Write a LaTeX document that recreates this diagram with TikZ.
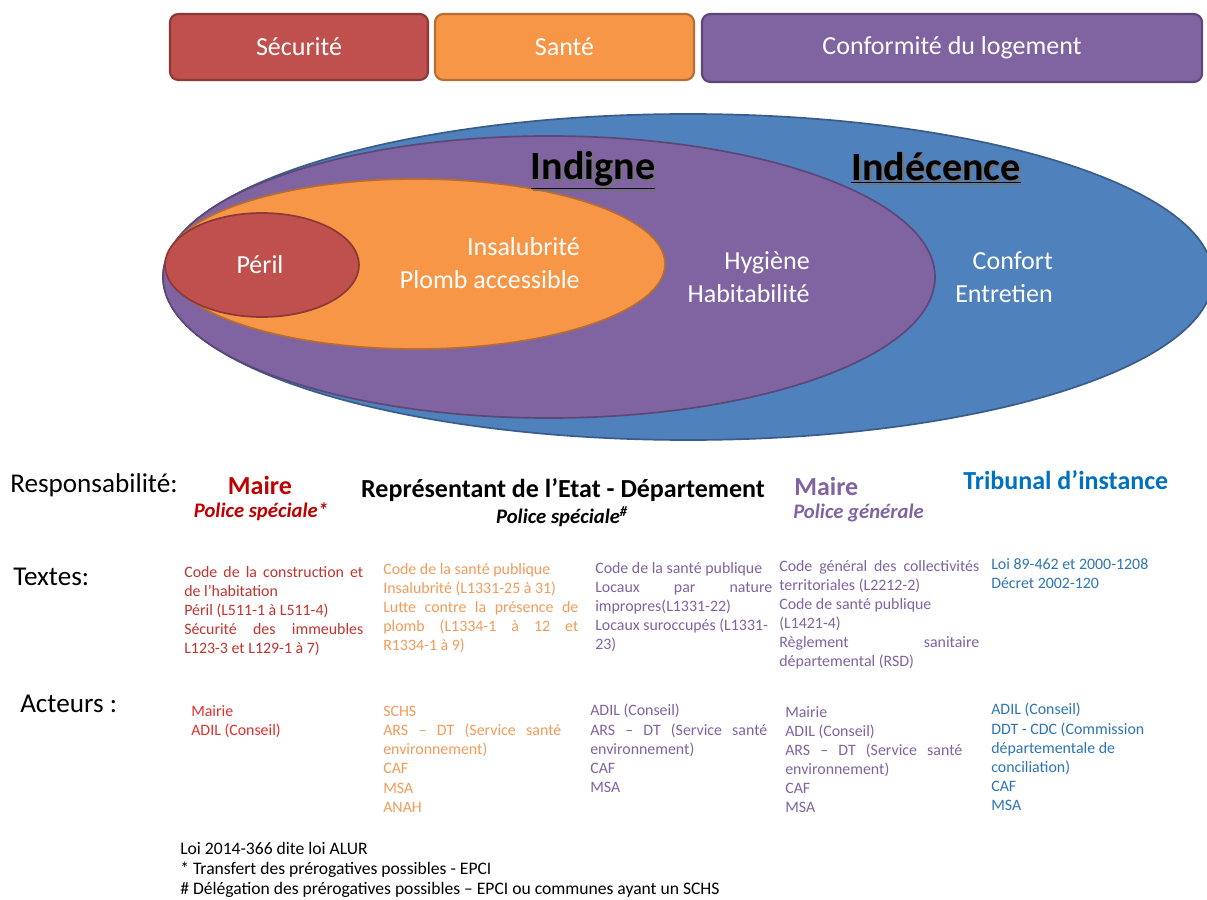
\documentclass[tikz,border=0pt]{standalone}
\usepackage{fontspec}
\setmainfont{Carlito}
\usetikzlibrary{positioning}
\usepackage{xcolor}
\definecolor{secred}{HTML}{C0504D}
\definecolor{secredD}{HTML}{8C3836}
\definecolor{santeor}{HTML}{F79646}
\definecolor{santeorD}{HTML}{B66D31}
\definecolor{confpur}{HTML}{8064A2}
\definecolor{confpurD}{HTML}{5C4776}
\definecolor{indblue}{HTML}{4F81BD}
\definecolor{indblueD}{HTML}{385D8A}
\definecolor{headred}{HTML}{C00000}
\definecolor{txtred}{HTML}{C0362F}
\definecolor{actred}{HTML}{E0312E}
\definecolor{txtor}{HTML}{F39B5A}
\definecolor{txtpur}{HTML}{8064A2}
\definecolor{headblue}{HTML}{0070C0}
\definecolor{txtblue}{HTML}{2E75B6}
\setlength{\parindent}{0pt}
% justified line of a given width
\newcommand{\jl}[2]{\makebox[#1][s]{\spaceskip=0.25em plus 1fil\relax #2}}

\begin{document}
\begin{tikzpicture}[x=0.025cm,y=-0.025cm,
  topbox/.style={draw, line width=1.5pt, rounded corners=6pt, text=white, inner sep=0pt,
                 font=\fontsize{18.5}{22}\selectfont},
  zone/.style={line width=1.2pt},
  zlabel/.style={text=white, align=right, inner sep=0pt, font=\fontsize{18.5}{23.5}\selectfont},
  title/.style={inner sep=0pt, font=\fontsize{28.5}{32}\selectfont\bfseries},
  rowhead/.style={anchor=west, inner sep=0pt, font=\fontsize{19.3}{22}\selectfont},
  chief/.style={inner sep=0pt, font=\fontsize{18.5}{22}\selectfont\bfseries},
  police/.style={inner sep=0pt, font=\fontsize{14.7}{17}\selectfont\bfseries\itshape},
  col/.style={anchor=north west, align=left, inner sep=0pt, font=\fontsize{11.3}{13.6}\selectfont},
  note/.style={anchor=north west, align=left, inner sep=0pt, font=\fontsize{12.5}{14.4}\selectfont}
]
  \useasboundingbox (0,0) rectangle (1207,899);
  \clip (0,0) rectangle (1207,899);
  \fill[white] (0,0) rectangle (1207,899);

  % Categories
  \node[topbox, fill=secred, draw=secredD, minimum width=6.45cm, minimum height=1.65cm] (securite) at (299,47) {Sécurité};
  \node[topbox, fill=santeor, draw=santeorD, minimum width=6.475cm, minimum height=1.65cm] (sante) at (564.5,47) {Santé};
  \node[topbox, fill=confpur, draw=confpurD, minimum width=12.5cm, minimum height=1.7cm] (conformite) at (952,48) {Conformité du logement};

  % Nested zones
  \draw[zone, fill=indblue, draw=indblueD] (688,277) ellipse [x radius=525, y radius=163];
  \draw[zone, fill=confpur, draw=confpurD] (549,277) ellipse [x radius=386, y radius=141];
  \draw[zone, fill=santeor, draw=santeorD] (416,264) ellipse [x radius=249, y radius=85];
  \draw[zone, fill=secred, draw=secredD] (262,265) ellipse [x radius=97, y radius=52];

  % Zone labels
  \node[title, text=black!55] (indigneshadow) at (595,172) {\underline{Indigne}};
  \node[title] (indigne) at (593,170) {\underline{Indigne}};
  \node[title, text=black!55] (indecenceshadow) at (938,170) {\underline{Indécence}};
  \node[title] (indecence) at (936,168) {\underline{Indécence}};
  \node[zlabel] (peril) at (260,265) {Péril};
  \node[zlabel, anchor=east] (insalubrite) at (580,263.5) {Insalubrité\\Plomb accessible};
  \node[zlabel, anchor=east] (hygiene) at (810,277.5) {Hygiène\\Habitabilité};
  \node[zlabel, anchor=east] (confort) at (1053,277.5) {Confort\\Entretien};

  % Row heads
  \node[rowhead] (resp) at (10,485) {Responsabilité:};
  \node[rowhead] (textes) at (13,577) {Textes:};
  \node[rowhead] (acteurs) at (20,704) {Acteurs :};

  % Responsibility
  \node[chief, text=headred] (maire1) at (260,485) {Maire};
  \node[police, text=headred] (police1) at (261,512) {Police spéciale*};
  \node[chief] (etat) at (563,490) {Représentant de l’Etat - Département};
  \node[police] (police2) at (562,517) {Police spéciale\textsuperscript{\#}};
  \node[chief, text=txtpur, anchor=west] (maire2) at (794,486) {Maire};
  \node[police, text=txtpur, anchor=west] (police3) at (793,513) {Police générale};
  \node[chief, text=headblue, anchor=west] (tribunal) at (963,480) {Tribunal d’instance};

  % Texts
  \node[col, text=txtred] (texte1) at (184,566)
    {\jl{4.475cm}{Code de la construction et}\\de l’habitation\\Péril (L511-1 à L511-4)\\\jl{4.475cm}{Sécurité des immeubles}\\L123-3 et L129-1 à 7)};
  \node[col, text=txtor] (texte2) at (383,563)
    {Code de la santé publique\\Insalubrité (L1331-25 à 31)\\\jl{4.875cm}{Lutte contre la présence de}\\\jl{4.875cm}{plomb (L1334-1 à 12 et}\\R1334-1 à 9)};
  \node[col, text=txtpur] (texte3) at (595,562)
    {Code de la santé publique\\\jl{4.425cm}{Locaux par nature}\\impropres(L1331-22)\\Locaux suroccupés (L1331-\\23)};
  \node[col, text=txtpur] (texte4) at (779,560)
    {\jl{5cm}{Code général des collectivités}\\territoriales (L2212-2)\\Code de santé publique\\(L1421-4)\\\jl{5cm}{Règlement sanitaire}\\départemental (RSD)};
  \node[col, text=txtblue] (texte5) at (991,558)
    {Loi 89-462 et 2000-1208\\Décret 2002-120};

  % Actors
  \node[col, text=actred] (acteur1) at (191,705) {Mairie\\ADIL (Conseil)};
  \node[col, text=txtor] (acteur2) at (383,706)
    {SCHS\\\jl{4.45cm}{ARS – DT (Service santé}\\environnement)\\CAF\\MSA\\ANAH};
  \node[col, text=txtpur] (acteur3) at (590,704)
    {ADIL (Conseil)\\\jl{4.425cm}{ARS – DT (Service santé}\\environnement)\\CAF\\MSA};
  \node[col, text=txtpur] (acteur4) at (785,706)
    {Mairie\\ADIL (Conseil)\\\jl{4.425cm}{ARS – DT (Service santé}\\environnement)\\CAF\\MSA};
  \node[col, text=txtblue] (acteur5) at (991,703)
    {ADIL (Conseil)\\DDT - CDC (Commission\\départementale de\\conciliation)\\CAF\\MSA};

  % Notes
  \node[note] (notes) at (180,842)
    {Loi 2014-366 dite loi ALUR\\* Transfert des prérogatives possibles - EPCI\\\# Délégation des prérogatives possibles – EPCI ou communes ayant un SCHS};
\end{tikzpicture}
\end{document}
